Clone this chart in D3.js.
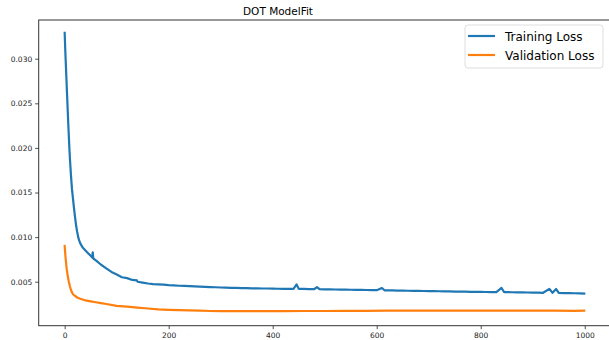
<!DOCTYPE html>
<html>
<head>
<meta charset="utf-8">
<script src="https://cdnjs.cloudflare.com/ajax/libs/d3/7.8.5/d3.min.js"></script>
<style>
  body { margin: 0; background: #fff; }
  svg { display: block; font-family: "DejaVu Sans", sans-serif; }
</style>
</head>
<body>
<svg id="viz"></svg>
<script>
//data
var trainEpochs = [0, 1, 2, 3, 4, 5, 6, 7, 8, 9, 10, 12, 14, 16, 18, 20, 22, 24, 26, 28, 30, 35, 40, 45, 50, 53, 54, 55, 60, 70, 80, 90, 100, 110, 120, 130, 139, 140, 150, 160, 170, 180, 190, 200, 210, 220, 230, 240, 250, 260, 270, 280, 290, 300, 310, 320, 330, 340, 350, 360, 370, 380, 390, 400, 410, 420, 430, 440, 446, 450, 460, 470, 480, 485, 490, 500, 510, 520, 530, 540, 550, 560, 570, 580, 590, 600, 610, 615, 620, 630, 640, 650, 660, 670, 680, 690, 700, 710, 720, 730, 740, 750, 760, 770, 780, 790, 800, 810, 820, 830, 840, 845, 850, 860, 870, 880, 890, 900, 910, 920, 932, 938, 945, 950, 960, 970, 980, 990, 999]
var trainLoss = [0.0329, 0.0312, 0.0297, 0.0283, 0.0268, 0.0254, 0.0240, 0.0226, 0.0213, 0.0200, 0.0189, 0.0170, 0.0154, 0.0143, 0.0132, 0.0122, 0.0113, 0.0106, 0.0100, 0.0096, 0.0093, 0.0088, 0.0085, 0.0082, 0.0079, 0.0077, 0.0083, 0.0076, 0.0074, 0.0069, 0.0065, 0.0061, 0.0058, 0.0055, 0.0054, 0.0052, 0.00515, 0.0050, 0.0049, 0.0048, 0.00474, 0.00470, 0.00467, 0.00462, 0.00460, 0.00455, 0.00453, 0.00450, 0.00447, 0.00445, 0.00443, 0.00440, 0.00438, 0.00435, 0.00434, 0.00432, 0.00430, 0.00428, 0.00428, 0.00426, 0.00425, 0.00424, 0.00424, 0.00422, 0.00421, 0.00420, 0.00421, 0.00420, 0.00470, 0.00420, 0.00419, 0.00418, 0.00417, 0.00440, 0.00416, 0.00415, 0.00414, 0.00413, 0.00412, 0.00411, 0.00410, 0.00409, 0.00408, 0.00407, 0.00406, 0.00405, 0.00430, 0.00404, 0.00403, 0.00402, 0.00401, 0.00400, 0.00399, 0.00398, 0.00397, 0.00396, 0.00395, 0.00394, 0.00393, 0.00392, 0.00391, 0.00390, 0.00389, 0.00388, 0.00387, 0.00386, 0.00386, 0.00385, 0.00384, 0.00384, 0.00430, 0.00384, 0.00383, 0.00382, 0.00381, 0.00380, 0.00379, 0.00378, 0.00377, 0.00376, 0.00420, 0.00376, 0.00418, 0.00374, 0.00373, 0.00372, 0.00371, 0.00370, 0.00368]

var valEpochs = [0, 1, 2, 3, 4, 5, 6, 8, 10, 12, 14, 16, 20, 25, 30, 40, 50, 60, 70, 80, 100, 120, 140, 160, 180, 200, 220, 240, 260, 280, 300, 340, 380, 420, 460, 500, 540, 580, 620, 660, 700, 740, 780, 820, 860, 900, 940, 980, 999]
var valLoss = [0.0090, 0.0082, 0.0075, 0.0069, 0.0064, 0.0060, 0.0056, 0.0050, 0.0045, 0.0041, 0.0038, 0.0036, 0.0034, 0.0032, 0.0031, 0.0029, 0.0028, 0.0027, 0.0026, 0.0025, 0.0023, 0.0022, 0.0021, 0.0020, 0.0019, 0.00185, 0.00181, 0.00178, 0.00175, 0.00172, 0.00171, 0.00170, 0.00170, 0.00171, 0.00172, 0.00172, 0.00173, 0.00174, 0.00175, 0.00175, 0.00176, 0.00176, 0.00177, 0.00176, 0.00176, 0.00175, 0.00175, 0.00174, 0.00175]

var xTicks = [0, 200, 400, 600, 800, 1000]
var yTicks = [0.005, 0.010, 0.015, 0.020, 0.025, 0.030]
var seriesNames = ["Training Loss", "Validation Loss"]
var colors = ["#1f77b4", "#ff7f0e"]

var width = 609, height = 340
// plot box (note: "top" is reserved on window, so prefix these)
var boxLeft = 38.7, boxRight = 610.2, boxTop = 20, boxBottom = 325.7

var viz = d3.select("#viz").attr("width", width).attr("height", height)

var x = d3.scaleLinear().domain([-49.95, 1048.95]).range([boxLeft, boxRight])
var y = d3.scaleLinear().domain([0.00007, 0.03434]).range([boxBottom, boxTop])

//title
viz.append("text")
  .attr("x", 278).attr("y", 15)
  .attr("text-anchor", "middle")
  .style("font-size", "10.5px")
  .attr("fill", "#000")
  .text("DOT ModelFit")

//axes
var xAxis = viz.append("g")
  .attr("transform", "translate(0," + boxBottom + ")")
  .call(d3.axisBottom(x).tickValues(xTicks).tickSize(3.5).tickPadding(3).tickFormat(d3.format("d")))
var yAxis = viz.append("g")
  .attr("transform", "translate(" + boxLeft + ",0)")
  .call(d3.axisLeft(y).tickValues(yTicks).tickSize(3.5).tickPadding(3).tickFormat(d3.format(".3f")))

;[xAxis, yAxis].forEach(function (g) {
  g.select(".domain").remove()
  g.selectAll("line").attr("stroke", "#222").attr("stroke-width", 0.8)
  g.selectAll("text").attr("fill", "#222").style("font-size", "7.5px").style("font-family", "DejaVu Sans")
})

//frame
viz.append("rect")
  .attr("x", boxLeft).attr("y", boxTop)
  .attr("width", boxRight - boxLeft).attr("height", boxBottom - boxTop)
  .attr("fill", "none").attr("stroke", "#333").attr("stroke-width", 1)

//lines
var line = d3.line()
  .x(function (d) { return x(d[0]) })
  .y(function (d) { return y(d[1]) })

var series = [
  d3.zip(trainEpochs, trainLoss),
  d3.zip(valEpochs, valLoss)
]

series.forEach(function (s, i) {
  viz.append("path")
    .datum(s)
    .attr("d", line)
    .attr("fill", "none")
    .attr("stroke", colors[i])
    .attr("stroke-width", 2.2)
    .attr("stroke-linejoin", "round")
    .attr("stroke-linecap", "square")
})

//legend
var legend = viz.append("g").attr("transform", "translate(465,25)")
legend.append("rect")
  .attr("width", 138).attr("height", 43).attr("rx", 3)
  .attr("fill", "#fff").attr("fill-opacity", 0.8)
  .attr("stroke", "#d6d6d6").attr("stroke-width", 0.8)

seriesNames.forEach(function (name, i) {
  var row = legend.append("g").attr("transform", "translate(0," + (11 + i * 19) + ")")
  row.append("line")
    .attr("x1", 3).attr("x2", 30)
    .attr("stroke", colors[i]).attr("stroke-width", 2.2)
  row.append("text")
    .attr("x", 40).attr("y", 4.5)
    .style("font-size", "12px")
    .attr("fill", "#000")
    .text(name)
})
</script>
</body>
</html>
